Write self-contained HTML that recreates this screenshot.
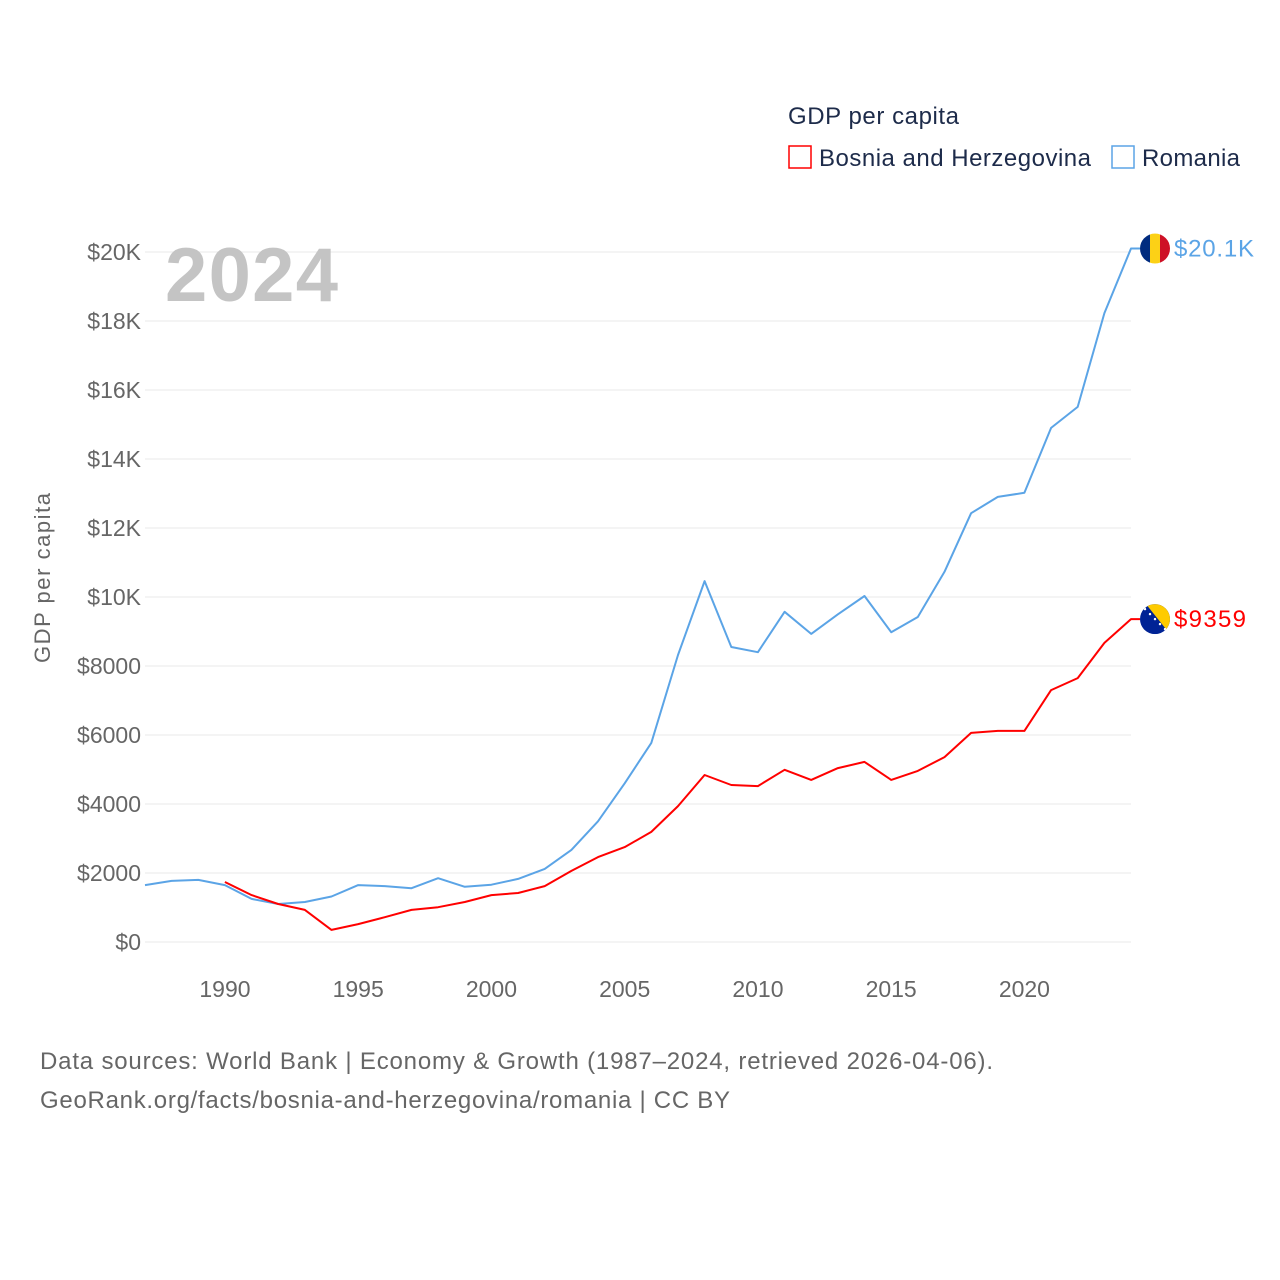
<!DOCTYPE html>
<html><head><meta charset="utf-8">
<style>
body{margin:0;background:#fff;font-family:"Liberation Sans",sans-serif;}
svg{display:block}
</style></head>
<body>
<svg id="chart" width="1280" height="1280" viewBox="0 0 1280 1280" xmlns="http://www.w3.org/2000/svg">
<text x="788" y="124" font-size="24" fill="#1d2b4a" textLength="171">GDP per capita</text>
<g>
<rect x="789" y="146" width="22" height="22" fill="none" stroke="#ff0000" stroke-width="1.5"/>
<text x="819" y="166" font-size="24" fill="#1d2b4a" textLength="272">Bosnia and Herzegovina</text></g>
<g>
<rect x="1112" y="146" width="22" height="22" fill="none" stroke="#5ba4e6" stroke-width="1.5"/>
<text x="1142" y="166" font-size="24" fill="#1d2b4a" textLength="98">Romania</text></g>
<g id="grid"></g>
<g id="yticks"></g>
<g id="xticks"></g>
<text x="165" y="301" font-size="76" font-weight="bold" fill="#c4c4c4" textLength="173">2024</text>
<text transform="translate(50,578) rotate(-90)" text-anchor="middle" font-size="22" fill="#666" textLength="170">GDP per capita</text>
<g id="series"></g>
<text x="40" y="1069" font-size="24" fill="#666" textLength="953">Data sources: World Bank | Economy &amp; Growth (1987–2024, retrieved 2026-04-06).</text>
<text x="40" y="1108" font-size="24" fill="#666" textLength="690">GeoRank.org/facts/bosnia-and-herzegovina/romania | CC BY</text>
</svg>
<script>
const years=[1987,1988,1989,1990,1991,1992,1993,1994,1995,1996,1997,1998,1999,2000,2001,2002,2003,2004,2005,2006,2007,2008,2009,2010,2011,2012,2013,2014,2015,2016,2017,2018,2019,2020,2021,2022,2023,2024];
const romania=[1650,1770,1800,1650,1250,1100,1160,1320,1650,1620,1560,1850,1600,1660,1830,2120,2670,3500,4600,5770,8320,10460,8550,8400,9570,8930,9500,10030,8980,9420,10730,12430,12900,13020,14900,15510,18230,20100];
const bosnia=[null,null,null,1740,1360,1100,930,350,520,720,930,1010,1160,1360,1420,1620,2060,2460,2750,3190,3940,4840,4550,4520,4990,4700,5040,5220,4700,4960,5360,6060,6120,6120,7300,7650,8670,9359];
const yTicks=[0,2000,4000,6000,8000,10000,12000,14000,16000,18000,20000];
const yLabels=["$0","$2000","$4000","$6000","$8000","$10K","$12K","$14K","$16K","$18K","$20K"];
const xTicks=[1990,1995,2000,2005,2010,2015,2020];
const NS="http://www.w3.org/2000/svg";
const x=v=>145+(v-1987)*(1131-145)/(2024-1987);
const y=v=>942-v*0.0345;
function mk(t,a,p){const e=document.createElementNS(NS,t);for(const k in a)e.setAttribute(k,a[k]);p.appendChild(e);return e;}
const grid=document.getElementById('grid'),yt=document.getElementById('yticks'),xt=document.getElementById('xticks'),ser=document.getElementById('series');
yTicks.forEach((v,i)=>{
 const l=mk('line',{x1:145,x2:1131,y1:y(v),y2:y(v),stroke:'#e8e8e8','stroke-width':1},grid);
 
 
 const t=mk('text',{x:141,y:y(v)+8,'text-anchor':'end','font-size':23,fill:'#666'},yt);
 t.textContent=yLabels[i];
 
 
});
xTicks.forEach(v=>{
 const t=mk('text',{x:x(v),y:997,'text-anchor':'middle','font-size':23,fill:'#666'},xt);
 t.textContent=v;
 
 
});
function line(vals,color,name){
 let d='';vals.forEach((v,i)=>{if(v==null)return;d+=(d?'L':'M')+x(years[i]).toFixed(1)+','+y(v).toFixed(1);});
 const lv=vals[vals.length-1];
 d+='L1140,'+y(lv).toFixed(1);
 const p=mk('path',{d:d,fill:'none',stroke:color,'stroke-width':2,'stroke-linejoin':'round'},ser);
 
 
}
line(romania,'#5ba4e6','romania-line');
line(bosnia,'#ff0000','bosnia-line');
const last=years.length-1;
const ry=y(romania[last]);
const fr=mk('g',{},ser);


const cr=mk('clipPath',{id:'cr'},fr);mk('circle',{cx:1155,cy:ry,r:15},cr);
const gr=mk('g',{'clip-path':'url(#cr)'},fr);
mk('rect',{x:1140,y:ry-15,width:10,height:30,fill:'#002b7f'},gr);
mk('rect',{x:1150,y:ry-15,width:10,height:30,fill:'#fcd116'},gr);
mk('rect',{x:1160,y:ry-15,width:10,height:30,fill:'#ce1126'},gr);
const rl=mk('text',{x:1174,y:ry+8,'font-size':24,fill:'#5ba4e6',textLength:80},ser);
rl.textContent='$20.1K';


const by=y(bosnia[last]);
const fb=mk('g',{},ser);


const cb=mk('clipPath',{id:'cb'},fb);mk('circle',{cx:1155,cy:by,r:15},cb);
const gb=mk('g',{'clip-path':'url(#cb)'},fb);
mk('rect',{x:1140,y:by-15,width:30,height:30,fill:'#002395'},gb);
mk('polygon',{points:`1146,${by-15} 1170,${by-15} 1170,${by+15}`,fill:'#fecb00'},gb);
for(let k=0;k<5;k++)mk('circle',{cx:1145+k*5,cy:by-10+k*5,r:1.2,fill:'#fff'},gb);
const bl=mk('text',{x:1174,y:by+8,'font-size':24,fill:'#ff0000',textLength:72},ser);
bl.textContent='$9359';


</script>
</body></html>
